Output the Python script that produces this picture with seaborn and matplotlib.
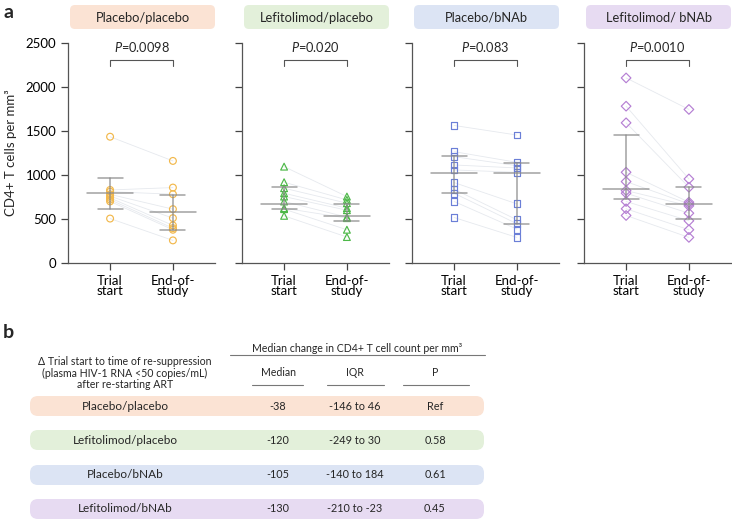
import pandas as pd
import seaborn as sns
import matplotlib.pyplot as plt
from matplotlib.patches import FancyBboxPatch

# ---- data ----
groups = ['Placebo/placebo', 'Lefitolimod/placebo', 'Placebo/bNAb', 'Lefitolimod/ bNAb']
p_labels = ['0.0098', '0.020', '0.083', '0.0010']
time_labels = ['Trial\nstart', 'End-of-\nstudy']

trial_start = [
    [1435, 830, 810, 780, 760, 740, 720, 700, 505],
    [1095, 918, 850, 793, 755, 699, 623, 612, 536],
    [1563, 1265, 1208, 1114, 1057, 914, 838, 793, 699, 517],
    [2103, 1782, 1593, 1031, 925, 823, 793, 699, 616, 540],
]
end_of_study = [
    [1160, 857, 782, 612, 510, 427, 396, 378, 257],
    [755, 717, 680, 623, 600, 521, 510, 378, 295],
    [1454, 1144, 1106, 1080, 1031, 672, 491, 446, 385, 291],
    [1745, 955, 861, 691, 672, 650, 566, 480, 378, 291],
]
# median / IQR bars
start_med = [793, 665, 1023, 838]
start_q1 = [616, 616, 800, 725]
start_q3 = [963, 861, 1216, 1454]
end_med = [578, 536, 1023, 668]
end_q1 = [378, 480, 446, 499]
end_q3 = [774, 672, 1133, 861]

# table (panel b)
table_groups = ['Placebo/placebo', 'Lefitolimod/placebo', 'Placebo/bNAb', 'Lefitolimod/bNAb']
median_change = ['-38', '-120', '-105', '-130']
iqr_change = ['-146 to 46', '-249 to 30', '-140 to 184', '-210 to -23']
p_change = ['Ref', '0.58', '0.61', '0.45']

# ---- style ----
marker_colors = ['#F2B84B', '#4DB848', '#6B7FD7', '#B57FD3']
header_colors = ['#FBE3D4', '#E3F0DA', '#DCE4F4', '#E7DBF2']
markers = ['o', '^', 's', 'D']

sns.set_style('ticks')
plt.rcParams['font.family'] = ['Lato', 'DejaVu Sans']
plt.rcParams['mathtext.fontset'] = 'custom'
plt.rcParams['mathtext.it'] = 'Lato:italic'

W, H = 732, 520
fig = plt.figure(figsize=(W / 100, H / 100), dpi=100)

# overlay in pixel units for headers, labels and table
ov = fig.add_axes([0, 0, 1, 1])
ov.set_xlim(0, W)
ov.set_ylim(H, 0)
ov.axis('off')

panel_left = [68, 242, 412, 584]
panel_w = 147
ax_top, ax_bot = 43, 263

for i, g in enumerate(groups):
    ax = fig.add_axes([panel_left[i] / W, (H - ax_bot) / H, panel_w / W, (ax_bot - ax_top) / H])
    col = marker_colors[i]
    n = len(trial_start[i])
    df = pd.DataFrame({
        'subject': list(range(n)) * 2,
        'time': [0] * n + [1] * n,
        'cd4': trial_start[i] + end_of_study[i],
    })
    sns.lineplot(data=df, x='time', y='cd4', units='subject', estimator=None,
                 color='#e6e9ee', lw=0.6, ax=ax, zorder=1)
    sns.scatterplot(data=df, x='time', y='cd4', marker=markers[i], s=24,
                    facecolor='none', edgecolor=col, linewidth=0.85, ax=ax, zorder=3)

    # median + IQR
    for x, m, lo, hi in [(0, start_med[i], start_q1[i], start_q3[i]),
                         (1, end_med[i], end_q1[i], end_q3[i])]:
        ax.plot([x - 0.36, x + 0.36], [m, m], color='#8a8a8a', lw=1.1, alpha=0.8, zorder=4)
        ax.plot([x, x], [lo, hi], color='#8a8a8a', lw=1.1, alpha=0.8, zorder=4)
        for v in (lo, hi):
            ax.plot([x - 0.2, x + 0.2], [v, v], color='#8a8a8a', lw=1.1, alpha=0.8, zorder=4)

    # p-value bracket
    ax.plot([0, 0, 1, 1], [2240, 2310, 2310, 2240], color='#555555', lw=0.8)
    ax.text(0.5, 2370, r'$\it{P}$=' + p_labels[i], ha='center', va='bottom', fontsize=9.2)

    ax.set_xlim(-0.67, 1.67)
    ax.set_ylim(0, 2500)
    ax.set_yticks(range(0, 2501, 500))
    ax.set_xticks([0, 1])
    ax.set_xticklabels(time_labels, fontsize=9.5, linespacing=0.85)
    ax.set_xlabel('')
    if i == 0:
        ax.set_ylabel('CD4+ T cells per mm³', fontsize=9.5, labelpad=6)
        ax.tick_params(axis='y', labelsize=9.5)
    else:
        ax.set_ylabel('')
        ax.set_yticklabels([])
    ax.tick_params(colors='#444444', length=5, width=0.9)
    ax.tick_params(axis='x', labelcolor='black')
    ax.tick_params(axis='y', labelcolor='black')
    for s in ('left', 'bottom'):
        ax.spines[s].set_color('#555555')
        ax.spines[s].set_linewidth(0.9)
    sns.despine(ax=ax)

    # header box
    x0 = panel_left[i] + 2
    ov.add_patch(FancyBboxPatch((x0, 5), panel_w - 2, 24,
                                boxstyle='round,pad=0,rounding_size=5',
                                fc=header_colors[i], ec='none', zorder=0))
    ov.text(x0 + (panel_w - 2) / 2, 17.5, g, ha='center', va='center', fontsize=9.3)

ov.text(3, 4, 'a', fontsize=14, fontweight='bold', va='top')
ov.text(3, 324, 'b', fontsize=14, fontweight='bold', va='top')

# ---- table ----
ov.text(125, 373, 'Δ Trial start to time of re-suppression\n(plasma HIV-1 RNA <50 copies/mL)\nafter re-starting ART',
        ha='center', va='center', fontsize=7.6, linespacing=1.0)
ov.text(357, 349, 'Median change in CD4+ T cell count per mm³', ha='center', va='center', fontsize=7.6)
ov.plot([230, 485], [355, 355], color='#777777', lw=0.8)
col_x = [278, 355, 435]
col_line = [(252, 303), (327, 384), (403, 469)]
for cx, name, (a, b) in zip(col_x, ['Median', 'IQR', 'P'], col_line):
    ov.text(cx, 372, name, ha='center', va='center', fontsize=7.6)
    ov.plot([a, b], [385, 385], color='#777777', lw=0.8)

row_y = [406, 440, 475, 509]
for j, g in enumerate(table_groups):
    ov.add_patch(FancyBboxPatch((30, row_y[j] - 10), 454, 20,
                                boxstyle='round,pad=0,rounding_size=8',
                                fc=header_colors[j], ec='none', zorder=0))
    ov.text(125, row_y[j], g, ha='center', va='center', fontsize=8.5)
    ov.text(col_x[0], row_y[j], median_change[j], ha='center', va='center', fontsize=7.8)
    ov.text(col_x[1], row_y[j], iqr_change[j], ha='center', va='center', fontsize=7.8)
    ov.text(col_x[2], row_y[j], p_change[j], ha='center', va='center', fontsize=7.8)

fig.savefig('out.png', dpi=100)
